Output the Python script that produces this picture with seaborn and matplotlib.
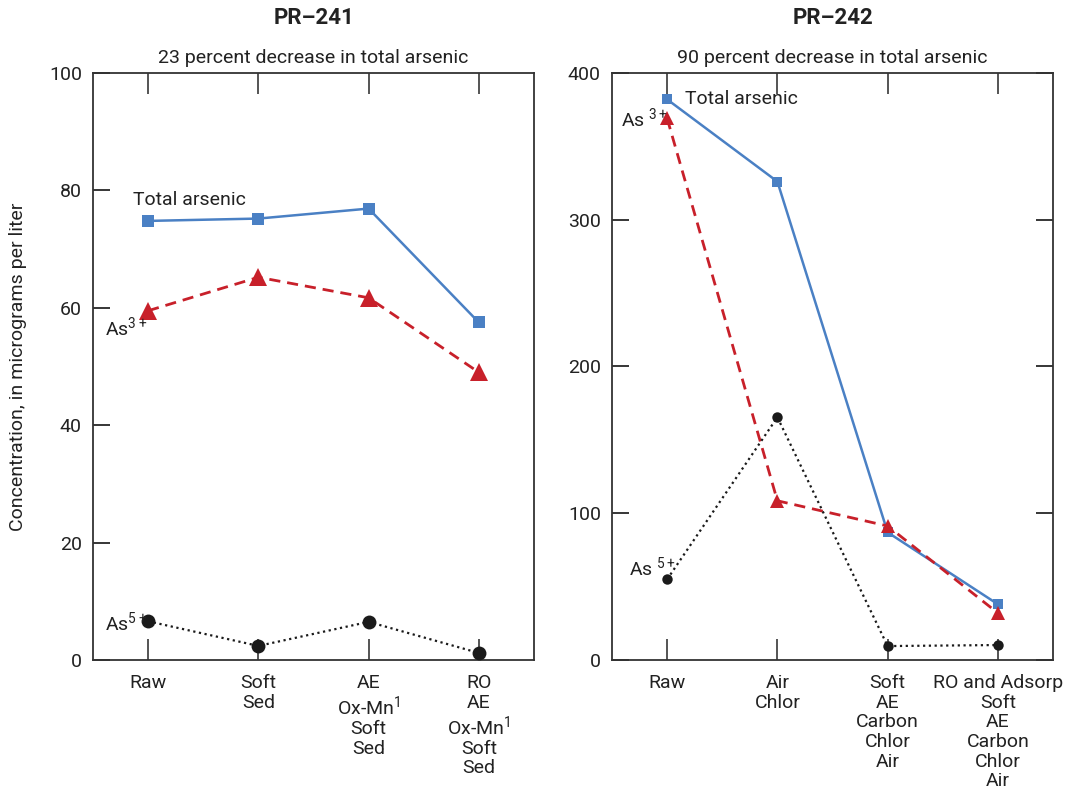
import numpy as np
import pandas as pd
import matplotlib
matplotlib.use("Agg")
import matplotlib.pyplot as plt
import seaborn as sns

# PR-241
cats_241 = ["Raw", "Soft\nSed", "AE\nOx-Mn$^1$\nSoft\nSed", "RO\nAE\nOx-Mn$^1$\nSoft\nSed"]
total_241 = [74.8, 75.2, 76.9, 57.5]
as3_241 = [59.5, 65.2, 61.7, 49.0]
as5_241 = [6.6, 2.4, 6.5, 1.2]

# PR-242
cats_242 = ["Raw", "Air\nChlor", "Soft\nAE\nCarbon\nChlor\nAir", "RO and Adsorp\nSoft\nAE\nCarbon\nChlor\nAir"]
total_242 = [382, 326, 87, 38]
as3_242 = [369, 108.5, 91.3, 32]
as5_242 = [55, 165.4, 9.5, 10.2]

BLUE = "#4a80c4"
RED = "#c8202a"
BLACK = "#1a1a1a"
FONT = "Roboto"

sns.set_style("ticks")
plt.rcParams['font.family'] = [FONT, 'DejaVu Sans']
plt.rcParams['mathtext.fontset'] = 'custom'
plt.rcParams['mathtext.rm'] = FONT
plt.rcParams['mathtext.it'] = FONT
plt.rcParams['mathtext.bf'] = FONT
plt.rcParams['axes.edgecolor'] = '#333333'
plt.rcParams['axes.linewidth'] = 1.3

fig = plt.figure(figsize=(10.84, 7.95), dpi=100)
ax1 = fig.add_axes([0.0858, 0.1698, 0.4068, 0.7384])
ax2 = fig.add_axes([0.5646, 0.1698, 0.4068, 0.7384])


def draw(ax, cats, total, as3, as5, big):
    x = np.arange(len(cats))
    ms = 1.0 if big else 0.75
    sns.lineplot(x=x, y=total, ax=ax, color=BLUE, marker="s", markersize=9 * ms,
                 markeredgewidth=0, linewidth=1.8, zorder=3)
    sns.lineplot(x=x, y=as3, ax=ax, color=RED, marker="^", markersize=13 * ms,
                 markeredgewidth=0, linewidth=2.0, linestyle=(0, (4, 2.5)), zorder=3)
    sns.lineplot(x=x, y=as5, ax=ax, color=BLACK, marker="o", markersize=10 * ms,
                 markeredgewidth=0, linewidth=1.6, linestyle=(0, (1, 1.6)), zorder=3)
    ax.set_xlim(-0.5, 3.5)
    ax.set_xticks(x)
    ax.set_xticklabels(cats, fontsize=14, linespacing=1.12, color="#222222")
    ax.tick_params(axis="x", direction="in", length=15, width=1.1, top=True,
                   bottom=True, pad=10)
    ax.tick_params(axis="y", direction="in", length=12, width=1.3, labelsize=14,
                   pad=8, labelcolor="#222222")
    ax.set_xlabel("")


draw(ax1, cats_241, total_241, as3_241, as5_241, True)
draw(ax2, cats_242, total_242, as3_242, as5_242, False)

ax1.set_ylim(0, 100)
ax1.set_yticks([0, 20, 40, 60, 80, 100])
ax1.tick_params(axis="y", left=True, right=False)
ax1.set_ylabel("Concentration, in micrograms per liter", fontsize=14,
               color="#222222", labelpad=16)

ax2.set_ylim(0, 400)
ax2.set_yticks([0, 100, 200, 300, 400])
ax2.tick_params(axis="y", left=True, right=True)

for a in (ax1, ax2):
    for s in a.spines.values():
        s.set_visible(True)

ax1.set_title("23 percent decrease in total arsenic", fontsize=14, pad=7, color="#222222")
ax2.set_title("90 percent decrease in total arsenic", fontsize=14, pad=7, color="#222222")
fig.text(0.2893, 0.977, "PR\u2013241", ha="center", va="center", fontsize=16,
         fontweight="bold", color="#222222")
fig.text(0.7680, 0.977, "PR\u2013242", ha="center", va="center", fontsize=16,
         fontweight="bold", color="#222222")

# series labels
tk = dict(fontsize=14, color="#222222", va="center")
ax1.text(-0.14, 78.3, "Total arsenic", ha="left", **tk)
ax1.text(-0.39, 56.7, "As$^{3+}$", ha="left", **tk)
ax1.text(-0.39, 6.4, "As$^{5+}$", ha="left", **tk)
ax2.text(0.16, 382, "Total arsenic", ha="left", **tk)
ax2.text(-0.42, 369, "As $^{3+}$", ha="left", **tk)
ax2.text(-0.35, 63, "As $^{5+}$", ha="left", **tk)

fig.savefig("out.png", dpi=100)
